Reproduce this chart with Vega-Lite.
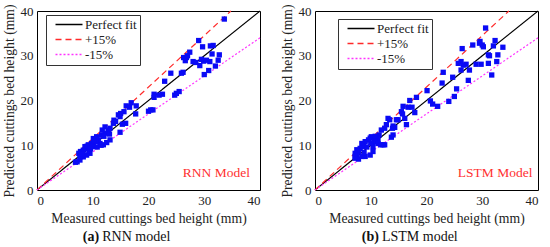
{
  "$schema": "https://vega.github.io/schema/vega-lite/v6.json",
  "padding": {"left": 1, "top": 3, "right": 0, "bottom": 0},
  "background": "white",
  "spacing": 16,
  "config": {
    "font": "Times New Roman, Liberation Serif, DejaVu Serif, serif",
    "view": {"stroke": "black", "strokeWidth": 1},
    "text": {"font": "Times New Roman, Liberation Serif, DejaVu Serif, serif"},
    "axis": {"grid": false, "domain": false, "ticks": false, "labelFont": "Times New Roman, Liberation Serif, DejaVu Serif, serif", "titleFont": "Times New Roman, Liberation Serif, DejaVu Serif, serif", "labelFontSize": 13, "titleFontSize": 13.7, "titleFontWeight": "normal", "labelColor": "#222", "titleColor": "#222", "labelPadding": 4, "titlePadding": 4},
    "legend": {"labelFont": "Times New Roman, Liberation Serif, DejaVu Serif, serif", "labelFontSize": 13, "labelColor": "#222"}
  },
  "datasets": {
    "rnn": [
      {"m": 33.6, "p": 38.2}, {"m": 29.0, "p": 33.4}, {"m": 29.7, "p": 32.0}, {"m": 31.1, "p": 32.2}, {"m": 31.6, "p": 32.3},
      {"m": 31.4, "p": 30.4}, {"m": 27.4, "p": 30.8}, {"m": 26.3, "p": 29.6}, {"m": 26.6, "p": 28.9}, {"m": 26.8, "p": 29.6},
      {"m": 27.0, "p": 30.0}, {"m": 28.0, "p": 28.7}, {"m": 28.5, "p": 28.5}, {"m": 29.5, "p": 29.2}, {"m": 29.9, "p": 28.8},
      {"m": 30.4, "p": 29.0}, {"m": 31.0, "p": 28.7}, {"m": 32.7, "p": 30.2}, {"m": 32.5, "p": 29.0}, {"m": 29.2, "p": 27.8},
      {"m": 32.0, "p": 27.7}, {"m": 30.8, "p": 26.7}, {"m": 30.0, "p": 25.8}, {"m": 26.2, "p": 26.3}, {"m": 25.9, "p": 26.1},
      {"m": 24.0, "p": 26.1}, {"m": 22.9, "p": 24.3}, {"m": 25.5, "p": 22.0}, {"m": 24.7, "p": 21.2}, {"m": 25.0, "p": 21.6},
      {"m": 22.5, "p": 21.4}, {"m": 21.9, "p": 21.2}, {"m": 21.0, "p": 21.4}, {"m": 21.0, "p": 20.7}, {"m": 20.4, "p": 17.9},
      {"m": 20.0, "p": 17.6}, {"m": 20.8, "p": 17.9}, {"m": 16.9, "p": 19.5}, {"m": 16.0, "p": 18.8}, {"m": 16.6, "p": 18.5},
      {"m": 17.8, "p": 18.8}, {"m": 17.7, "p": 17.0}, {"m": 15.6, "p": 17.5}, {"m": 14.9, "p": 16.4}, {"m": 14.6, "p": 16.8},
      {"m": 15.0, "p": 17.1}, {"m": 15.9, "p": 14.9}, {"m": 15.3, "p": 14.7}, {"m": 14.9, "p": 12.9}, {"m": 13.8, "p": 15.6},
      {"m": 13.7, "p": 14.9}, {"m": 14.1, "p": 15.3}, {"m": 13.1, "p": 13.8}, {"m": 12.8, "p": 13.4}, {"m": 12.2, "p": 14.1},
      {"m": 11.7, "p": 13.4}, {"m": 13.1, "p": 11.2}, {"m": 12.2, "p": 12.7}, {"m": 11.6, "p": 12.3}, {"m": 11.3, "p": 10.4},
      {"m": 11.9, "p": 10.1}, {"m": 11.0, "p": 11.2}, {"m": 10.1, "p": 11.5}, {"m": 10.7, "p": 11.9}, {"m": 9.8, "p": 10.4},
      {"m": 10.1, "p": 9.7}, {"m": 9.2, "p": 10.1}, {"m": 8.9, "p": 9.3}, {"m": 8.6, "p": 9.7}, {"m": 8.3, "p": 8.9},
      {"m": 7.8, "p": 8.6}, {"m": 7.5, "p": 8.2}, {"m": 9.5, "p": 8.2}, {"m": 8.9, "p": 7.8}, {"m": 8.3, "p": 7.4},
      {"m": 7.7, "p": 6.7}, {"m": 7.2, "p": 6.3}, {"m": 6.9, "p": 6.2}, {"m": 7.7, "p": 7.4}, {"m": 10.5, "p": 10.8},
      {"m": 9.0, "p": 9.8}, {"m": 8.0, "p": 8.0}, {"m": 12.5, "p": 10.6}, {"m": 10.8, "p": 9.6}, {"m": 9.3, "p": 8.8},
      {"m": 11.5, "p": 10.0}, {"m": 12.0, "p": 12.0}, {"m": 13.0, "p": 12.5}, {"m": 10.2, "p": 11.0}, {"m": 9.6, "p": 9.2}
    ],
    "lstm": [
      {"m": 30.6, "p": 36.2}, {"m": 29.6, "p": 33.2}, {"m": 30.0, "p": 32.4}, {"m": 29.5, "p": 32.8}, {"m": 30.2, "p": 32.0},
      {"m": 32.3, "p": 33.4}, {"m": 32.0, "p": 32.2}, {"m": 33.7, "p": 31.9}, {"m": 26.4, "p": 31.6}, {"m": 28.3, "p": 32.4},
      {"m": 31.1, "p": 30.2}, {"m": 31.3, "p": 30.0}, {"m": 32.8, "p": 30.2}, {"m": 26.2, "p": 28.7}, {"m": 25.7, "p": 28.3},
      {"m": 27.1, "p": 28.1}, {"m": 26.6, "p": 27.9}, {"m": 26.2, "p": 26.8}, {"m": 28.9, "p": 28.1}, {"m": 29.8, "p": 28.1},
      {"m": 31.1, "p": 28.3}, {"m": 32.6, "p": 28.7}, {"m": 27.7, "p": 26.8}, {"m": 24.7, "p": 25.2}, {"m": 23.0, "p": 26.3},
      {"m": 22.8, "p": 23.9}, {"m": 20.1, "p": 22.2}, {"m": 27.5, "p": 24.5}, {"m": 31.7, "p": 25.7}, {"m": 25.4, "p": 22.6},
      {"m": 25.0, "p": 20.9}, {"m": 24.0, "p": 19.8}, {"m": 22.0, "p": 18.7}, {"m": 20.7, "p": 19.9}, {"m": 21.1, "p": 19.2},
      {"m": 18.2, "p": 20.7}, {"m": 17.0, "p": 20.0}, {"m": 17.4, "p": 18.5}, {"m": 16.7, "p": 18.5}, {"m": 17.9, "p": 17.3},
      {"m": 15.8, "p": 18.7}, {"m": 15.5, "p": 17.5}, {"m": 15.7, "p": 17.0}, {"m": 16.1, "p": 16.0}, {"m": 16.4, "p": 14.6},
      {"m": 14.9, "p": 15.7}, {"m": 14.6, "p": 15.7}, {"m": 14.0, "p": 14.3}, {"m": 14.3, "p": 14.0}, {"m": 13.9, "p": 13.8},
      {"m": 14.0, "p": 12.3}, {"m": 13.7, "p": 11.8}, {"m": 13.1, "p": 16.0}, {"m": 13.4, "p": 15.7}, {"m": 12.8, "p": 14.6},
      {"m": 12.5, "p": 13.8}, {"m": 11.9, "p": 13.4}, {"m": 12.2, "p": 10.1}, {"m": 12.5, "p": 10.1}, {"m": 11.5, "p": 12.3},
      {"m": 11.0, "p": 11.9}, {"m": 11.3, "p": 11.2}, {"m": 10.7, "p": 10.8}, {"m": 11.3, "p": 10.4}, {"m": 11.8, "p": 10.1},
      {"m": 10.1, "p": 11.9}, {"m": 9.9, "p": 11.6}, {"m": 9.6, "p": 11.2}, {"m": 10.4, "p": 9.7}, {"m": 10.4, "p": 8.6},
      {"m": 9.0, "p": 10.8}, {"m": 8.4, "p": 10.4}, {"m": 8.7, "p": 9.7}, {"m": 8.1, "p": 9.3}, {"m": 9.9, "p": 7.8},
      {"m": 9.0, "p": 7.5}, {"m": 7.5, "p": 9.0}, {"m": 7.8, "p": 8.6}, {"m": 7.2, "p": 8.2}, {"m": 7.5, "p": 7.8},
      {"m": 7.2, "p": 7.1}, {"m": 7.8, "p": 6.9}, {"m": 8.4, "p": 7.5}, {"m": 7.2, "p": 7.5}, {"m": 10.0, "p": 10.5},
      {"m": 9.3, "p": 9.6}, {"m": 10.8, "p": 12.0}, {"m": 8.8, "p": 8.4}
    ],
    "lines": [
      {"series": "Perfect fit", "x": 0, "y": 0}, {"series": "Perfect fit", "x": 40, "y": 40},
      {"series": "+15%", "x": 0, "y": 0}, {"series": "+15%", "x": 34.78, "y": 40},
      {"series": "-15%", "x": 0, "y": 0}, {"series": "-15%", "x": 40, "y": 34}
    ]
  },
  "hconcat": [
    {
      "width": 223,
      "height": 179,
      "layer": [
        {
          "data": {"name": "lines"},
          "mark": {"type": "line", "strokeWidth": 1.2},
          "encoding": {
            "x": {"field": "x", "type": "quantitative", "scale": {"domain": [0, 40], "nice": false}, "axis": {"values": [0, 10, 20, 30, 40], "title": "Measured cuttings bed height (mm)"}},
            "y": {"field": "y", "type": "quantitative", "scale": {"domain": [0, 40], "nice": false}, "axis": {"values": [0, 10, 20, 30, 40], "title": "Predicted cuttings bed height (mm)"}},
            "detail": {"field": "series"},
            "color": {"field": "series", "type": "nominal", "scale": {"domain": ["Perfect fit", "+15%", "-15%"], "range": ["#000000", "#ff2a2a", "#ff33ff"]}, "legend": {"title": null, "orient": "none", "legendX": 9, "legendY": 4, "strokeColor": "#333", "padding": 3, "rowPadding": 1, "symbolType": "M0,0H6", "symbolSize": 81, "symbolStrokeWidth": 1.3, "labelOffset": 23}},
            "strokeDash": {"field": "series", "type": "nominal", "scale": {"domain": ["Perfect fit", "+15%", "-15%"], "range": [[1, 0], [6, 4], [2, 2]]}, "legend": {"title": null}}
          }
        },
        {
          "data": {"name": "rnn"},
          "mark": {"type": "point", "shape": "square", "filled": true, "size": 28, "color": "#0a0af5", "opacity": 1},
          "encoding": {
            "x": {"field": "m", "type": "quantitative"},
            "y": {"field": "p", "type": "quantitative"}
          }
        },
        {
          "data": {"values": [{"x": 38.2, "y": 3.7, "t": "RNN Model"}]},
          "mark": {"type": "text", "align": "right", "baseline": "middle", "fontSize": 13.5, "color": "#ff3030"},
          "encoding": {"x": {"field": "x", "type": "quantitative"}, "y": {"field": "y", "type": "quantitative"}, "text": {"field": "t"}}
        },
        {
          "data": {"values": [{"x": 8.2, "y": -10.4, "t": "(a)"}]},
          "mark": {"type": "text", "align": "left", "baseline": "middle", "fontSize": 14, "fontWeight": "bold", "color": "#111"},
          "encoding": {"x": {"field": "x", "type": "quantitative"}, "y": {"field": "y", "type": "quantitative"}, "text": {"field": "t"}}
        },
        {
          "data": {"values": [{"x": 11.7, "y": -10.4, "t": "RNN model"}]},
          "mark": {"type": "text", "align": "left", "baseline": "middle", "fontSize": 14, "color": "#111"},
          "encoding": {"x": {"field": "x", "type": "quantitative"}, "y": {"field": "y", "type": "quantitative"}, "text": {"field": "t"}}
        }
      ]
    },
    {
      "width": 223,
      "height": 179,
      "layer": [
        {
          "data": {"name": "lines"},
          "mark": {"type": "line", "strokeWidth": 1.2},
          "encoding": {
            "x": {"field": "x", "type": "quantitative", "scale": {"domain": [0, 40], "nice": false}, "axis": {"values": [0, 10, 20, 30, 40], "title": "Measured cuttings bed height (mm)"}},
            "y": {"field": "y", "type": "quantitative", "scale": {"domain": [0, 40], "nice": false}, "axis": {"values": [0, 10, 20, 30, 40], "title": "Predicted cuttings bed height (mm)"}},
            "detail": {"field": "series"},
            "color": {"field": "series", "type": "nominal", "scale": {"domain": ["Perfect fit", "+15%", "-15%"], "range": ["#000000", "#ff2a2a", "#ff33ff"]}, "legend": {"title": null, "orient": "none", "legendX": 23, "legendY": 8, "strokeColor": "#333", "padding": 3, "rowPadding": 1, "symbolType": "M0,0H6", "symbolSize": 81, "symbolStrokeWidth": 1.3, "labelOffset": 23}},
            "strokeDash": {"field": "series", "type": "nominal", "scale": {"domain": ["Perfect fit", "+15%", "-15%"], "range": [[1, 0], [6, 4], [2, 2]]}, "legend": {"title": null}}
          }
        },
        {
          "data": {"name": "lstm"},
          "mark": {"type": "point", "shape": "square", "filled": true, "size": 28, "color": "#0a0af5", "opacity": 1},
          "encoding": {
            "x": {"field": "m", "type": "quantitative"},
            "y": {"field": "p", "type": "quantitative"}
          }
        },
        {
          "data": {"values": [{"x": 39.0, "y": 3.7, "t": "LSTM Model"}]},
          "mark": {"type": "text", "align": "right", "baseline": "middle", "fontSize": 13.5, "color": "#ff3030"},
          "encoding": {"x": {"field": "x", "type": "quantitative"}, "y": {"field": "y", "type": "quantitative"}, "text": {"field": "t"}}
        },
        {
          "data": {"values": [{"x": 8.4, "y": -10.4, "t": "(b)"}]},
          "mark": {"type": "text", "align": "left", "baseline": "middle", "fontSize": 14, "fontWeight": "bold", "color": "#111"},
          "encoding": {"x": {"field": "x", "type": "quantitative"}, "y": {"field": "y", "type": "quantitative"}, "text": {"field": "t"}}
        },
        {
          "data": {"values": [{"x": 12.0, "y": -10.4, "t": "LSTM model"}]},
          "mark": {"type": "text", "align": "left", "baseline": "middle", "fontSize": 14, "color": "#111"},
          "encoding": {"x": {"field": "x", "type": "quantitative"}, "y": {"field": "y", "type": "quantitative"}, "text": {"field": "t"}}
        }
      ]
    }
  ],
  "resolve": {"scale": {"color": "independent", "strokeDash": "independent"}}
}
